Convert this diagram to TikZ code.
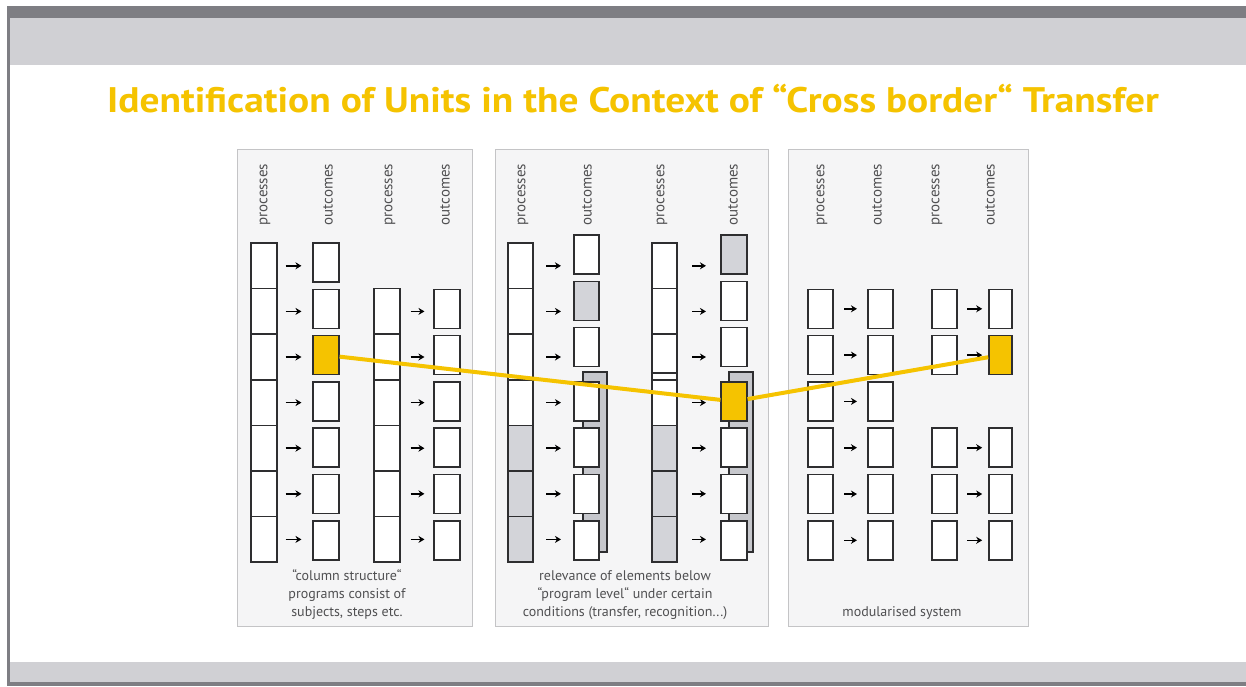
\documentclass[tikz,border=0pt]{standalone}
\usepackage{fontspec}
\setmainfont{PT Sans}
\usetikzlibrary{arrows.meta}
\definecolor{unityellow}{HTML}{F5C300}
\definecolor{paneledge}{HTML}{C4C4C6}
\definecolor{panelfill}{HTML}{F5F5F6}
\definecolor{boxline}{HTML}{2E2E30}
\definecolor{boxgray}{HTML}{D3D4D9}
\definecolor{backgray}{HTML}{C6C7CC}
\definecolor{textgray}{HTML}{505052}
\definecolor{bardark}{HTML}{7E7E83}
\definecolor{barlight}{HTML}{D0D0D4}
\begin{document}
\begin{tikzpicture}[x = 1pt,
                    y = -1pt,
                    line width = 1.6pt,
                    pcell/.style = {draw = boxline, fill = white, inner sep = 0pt, minimum width = 25.5pt, minimum height = 45.6pt},
                    obox/.style = {draw = boxline, fill = white, inner sep = 0pt, minimum width = 25.5pt, minimum height = 39pt},
                    colhead/.style = {rotate = 90, anchor = east, inner sep = 0pt, text = textgray, font = \fontsize{15}{15}\selectfont},
                    capt/.style = {align = center, anchor = south, inner sep = 0pt, text = textgray, font = \fontsize{14}{18}\selectfont},
                    arr/.style = {-{Stealth[length = 6pt, width = 7pt]}, line width = 1.6pt, black},
                    panelbox/.style = {draw = paneledge, fill = panelfill, line width = 1pt}]

    \useasboundingbox (0,0) rectangle (1246,686);
    \fill[white] (0,0) rectangle (1246,686);

    % slide frame
    \fill[bardark] (7,6) rectangle (1246,18);
    \fill[barlight] (7,18) rectangle (1246,65);
    \fill[barlight] (7,662) rectangle (1246,682);
    \fill[bardark] (7,682) rectangle (1246,686);
    \fill[bardark] (7,6) rectangle (9.5,686);

    \node[anchor = base, text = unityellow, font = \bfseries\fontsize{35.5}{35.5}\selectfont] (title) at (633,112)
        {\scalebox{1.11}[1]{Identification of Units in the Context of “Cross border“ Transfer}};

    \draw[panelbox] (237,149) rectangle (472,626);
    \draw[panelbox] (495,149) rectangle (768,626);
    \draw[panelbox] (788,149) rectangle (1028,626);

    \foreach \x/\t [count = \k] in {265/processes, 328/outcomes, 390/processes, 445/outcomes,
                                    523/processes, 587/outcomes, 662/processes, 733/outcomes,
                                    822/processes, 877/outcomes, 937/processes, 990/outcomes}
    {
        \node[colhead] (head\k) at (\x,163) {\t};
    }

    % column structure
    \foreach \i in {1,...,7}
    {
        \node[pcell] (A1p\i) at (264,{265.8 + 45.6*(\i-1)}) {};
        \node[obox] (A1o\i) at (326,{262.5 + 46.3*(\i-1)}) {};
        \draw[arr, shorten <= 8pt, shorten >= 11pt] (A1p\i.east) -- (A1p\i.east -| A1o\i.west);
    }
    \node[obox, fill = unityellow] (A1pick) at (A1o3) {};
    \foreach \i in {2,...,7}
    {
        \node[pcell] (A2p\i) at (387,{265.8 + 45.6*(\i-1)}) {};
        \node[obox] (A2o\i) at (447,{262.5 + 46.3*(\i-1)}) {};
        \draw[arr, shorten <= 10pt, shorten >= 9pt] (A2p\i.east) -- (A2p\i.east -| A2o\i.west);
    }

    % below program level
    \draw[fill = backgray, draw = boxline] (583,372) rectangle (607,552);
    \draw[fill = backgray, draw = boxline] (729,372) rectangle (753,552);
    \foreach \i/\f in {1/white, 2/white, 3/white, 4/white, 5/boxgray, 6/boxgray, 7/boxgray}
    {
        \node[pcell, fill = \f] (B1p\i) at (520.5,{265.8 + 45.6*(\i-1)}) {};
        \node[pcell, fill = \f] (B2p\i) at (664.5,{265.8 + 45.6*(\i-1)}) {};
    }
    \draw[boxline] ([yshift = 6pt]B2p4.north west) -- ([yshift = 6pt]B2p4.north east);
    \foreach \i/\d/\f/\g in {1/-8/white/boxgray,
                             2/-8/boxgray/white,
                             3/-8/white/white,
                             4/0/white/unityellow,
                             5/0/white/white,
                             6/0/white/white,
                             7/0/white/white}
    {
        \node[obox, fill = \f] (B1o\i) at (586.5,{262.5 + 46.3*(\i-1) + \d}) {};
        \node[obox, fill = \g] (B2o\i) at (734,{262.5 + 46.3*(\i-1) + \d}) {};
        \draw[arr, shorten <= 12pt, shorten >= 12pt] (B1p\i.east) -- (B1p\i.east -| B1o\i.west);
        \draw[arr, shorten <= 14pt, shorten >= 14.5pt] (B2p\i.east) -- (B2p\i.east -| B2o\i.west);
    }

    % modularised system
    \foreach \i in {2,...,7}
    {
        \node[obox] (C1p\i) at (820.5,{262.5 + 46.3*(\i-1)}) {};
        \node[obox] (C1o\i) at (880.5,{262.5 + 46.3*(\i-1)}) {};
        \draw[arr, shorten <= 10pt, shorten >= 10pt] (C1p\i) -- (C1o\i);
    }
    \foreach \i/\f in {2/white, 3/unityellow, 5/white, 6/white, 7/white}
    {
        \node[obox] (C2p\i) at (944.5,{262.5 + 46.3*(\i-1)}) {};
        \node[obox, fill = \f, minimum width = 23pt] (C2o\i) at (1000.5,{262.5 + 46.3*(\i-1)}) {};
        \draw[arr, shorten <= 9pt, shorten >= 6pt] (C2p\i) -- (C2o\i);
    }

    \draw[unityellow, line width = 4pt] (A1pick) -- (B2o4) -- (C2o3);

    \node[capt] (captA) at (347,620) {“column structure“\\programs consist of\\subjects, steps etc.};
    \node[capt] (captB) at (625,620) {relevance of elements below\\“program level“ under certain\\conditions (transfer, recognition...)};
    \node[capt] (captC) at (902,620) {modularised system};
\end{tikzpicture}
\end{document}
